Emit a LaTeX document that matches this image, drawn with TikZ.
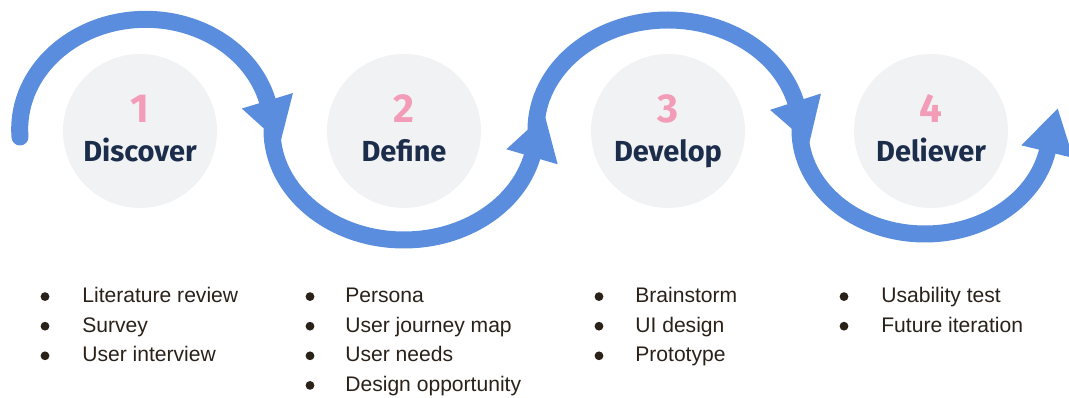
\documentclass[tikz,border=0pt]{standalone}
\usepackage{fontspec}
\setmainfont{Liberation Sans}
\newfontfamily\stagefont{Fira Sans}
\usetikzlibrary{arrows.meta,calc}

\definecolor{waveblue}{HTML}{5B8DDE}
\definecolor{stagefill}{HTML}{F1F2F4}
\definecolor{numpink}{HTML}{F29CB8}
\definecolor{stageink}{HTML}{1B2D4B}
\definecolor{listink}{HTML}{2A2119}

\begin{document}
\begin{tikzpicture}[x=0.02cm, y=-0.02cm, stage/.style={circle, fill=stagefill, minimum size=3.08cm, inner sep=0pt}, num/.style={anchor=base, text=numpink, font=\stagefont\bfseries\fontsize{23}{23}\selectfont}, stagename/.style={anchor=base, text=stageink, font=\stagefont\bfseries\fontsize{16.5}{16.5}\selectfont}, wave/.style={draw, color=waveblue, line width=0.34cm, line cap=round, -{Triangle[length=0.9cm, width=1cm]}}, item/.style={anchor=base west, inner sep=0pt, text=listink, font=\fontsize{12}{12}\selectfont}, dot/.style={fill=listink}]
\useasboundingbox (0,0) rectangle (1069,398);
% the four stages
\foreach \n/\x/\name in {1/140/Discover, 2/404/Define, 3/668/Develop, 4/931/Deliever} {
  \node[stage] (s\n) at (\x,131) {};
  \node[num] (n\n) at ([yshift=0.16cm]s\n.center) {\n};
  \node[stagename] (t\n) at ([yshift=-0.62cm]s\n.center) {\name};
}
% wave running over and under the stages
\coordinate (w0) at (20,137);
\coordinate (j1) at (272,130);
\coordinate (j2) at (536,130);
\coordinate (j3) at (800,130);
\path[wave] (w0) arc[start angle=176, end angle=345, x radius=126, y radius=110] -- ++(13,43);
\path[wave] (j1) arc[start angle=180, end angle=14, x radius=132, y radius=110] -- ++(12.6,-43);
\path[wave] (j2) arc[start angle=180, end angle=345, x radius=132, y radius=110] -- ++(13.8,43);
\path[wave] (j3) arc[start angle=180, end angle=12, x radius=125, y radius=104] -- ++(10.6,-43.7);
% activity lists
\foreach \txt [count=\i] in {Literature review, Survey, User interview} {
  \node[item] (a\i) at (82,273+29.6*\i) {\txt};
  \fill[dot] ($(a\i.base west)+(-37,-6)$) circle[radius=0.088cm];
}
\foreach \txt [count=\i] in {Persona, User journey map, User needs, Design opportunity} {
  \node[item] (b\i) at (345,273+29.6*\i) {\txt};
  \fill[dot] ($(b\i.base west)+(-35,-6)$) circle[radius=0.088cm];
}
\foreach \txt [count=\i] in {Brainstorm, UI design, Prototype} {
  \node[item] (c\i) at (635,273+29.6*\i) {\txt};
  \fill[dot] ($(c\i.base west)+(-36,-6)$) circle[radius=0.088cm];
}
\foreach \txt [count=\i] in {Usability test, Future iteration} {
  \node[item] (d\i) at (881,273+29.6*\i) {\txt};
  \fill[dot] ($(d\i.base west)+(-37,-6)$) circle[radius=0.088cm];
}
\end{tikzpicture}
\end{document}
